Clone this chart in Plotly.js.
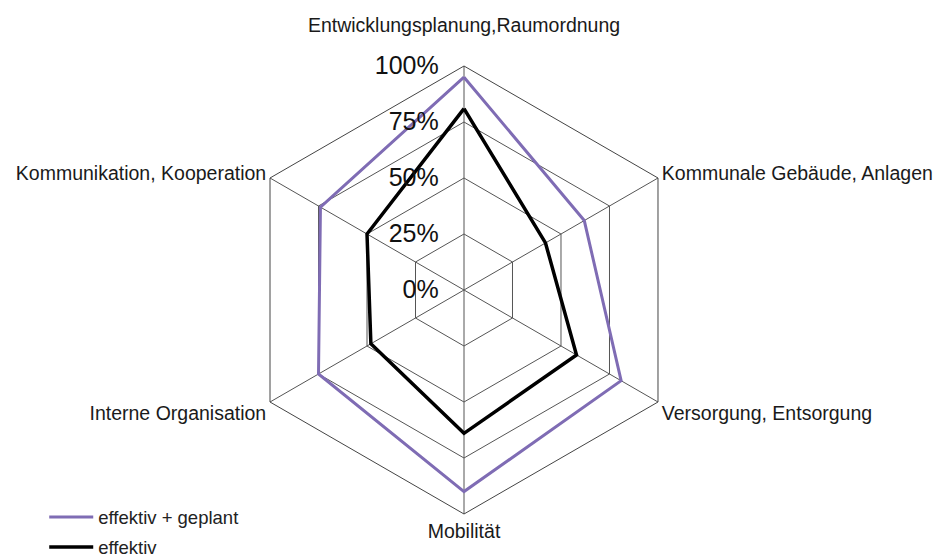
<!DOCTYPE html>
<html>
<head>
<meta charset="utf-8">
<script src="https://cdn.plot.ly/plotly-3.0.1.min.js"></script>
<style>
  html, body { margin: 0; padding: 0; background: #fff; }
  #myDiv { width: 941px; height: 555px; }
</style>
</head>
<body>
<div id="myDiv"></div>
<script>
var bereiche = [
  'Entwicklungsplanung,Raumordnung',
  'Kommunale Gebäude, Anlagen',
  'Versorgung, Entsorgung',
  'Mobilität',
  'Interne Organisation',
  'Kommunikation, Kooperation'
];
var bereichLabels = [
  'Entwicklungsplanung,Raumordnung<br> ',
  'Kommunale Gebäude, Anlagen',
  'Versorgung, Entsorgung',
  'Mobilität',
  'Interne Organisation',
  'Kommunikation, Kooperation'
];
var effektivGeplant = [95, 62, 81, 90, 75, 74];
var effektiv = [81, 42, 58, 64, 48, 50];
var radialTicks = [0, 25, 50, 75, 100];

function closeLoop(arr) {
  return arr.concat([arr[0]]);
}

var trace1 = {
  type: 'scatterpolar',
  r: closeLoop(effektivGeplant),
  theta: closeLoop(bereiche),
  mode: 'lines',
  name: 'effektiv + geplant',
  legendgroup: 'a',
  line: {color: '#7f6cb4', width: 3}
};

var trace2 = {
  type: 'scatterpolar',
  r: closeLoop(effektiv),
  theta: closeLoop(bereiche),
  mode: 'lines',
  name: 'effektiv',
  legendgroup: 'b',
  line: {color: '#000000', width: 3.5}
};

var data = [trace1, trace2];

var layout = {
  width: 941,
  height: 555,
  margin: {l: 100, r: 113, t: 66, b: 41, autoexpand: false},
  paper_bgcolor: '#ffffff',
  font: {family: 'Liberation Sans, Arial, sans-serif', color: '#1a1a1a', size: 19.5},
  showlegend: true,
  legend: {
    xref: 'container', yref: 'container',
    x: 0.047, y: 0.102, xanchor: 'left', yanchor: 'top',
    font: {size: 18.5, color: '#222'},
    itemwidth: 44,
    traceorder: 'grouped',
    tracegroupgap: 3
  },
  polar: {
    gridshape: 'linear',
    bgcolor: '#ffffff',
    angularaxis: {
      categoryarray: bereiche,
      tickvals: bereiche,
      ticktext: bereichLabels,
      rotation: 90,
      direction: 'clockwise',
      linecolor: '#444',
      linewidth: 1,
      gridcolor: '#555',
      gridwidth: 1,
      ticks: '',
      tickfont: {size: 19.5, color: '#1a1a1a'}
    },
    radialaxis: {
      range: [0, 100],
      angle: 90,
      side: 'counterclockwise',
      tickangle: 90,
      tickvals: radialTicks,
      ticktext: radialTicks.map(function (v) { return v + '%'; }),
      showline: false,
      ticks: 'outside',
      ticklen: 16,
      tickcolor: 'rgba(0,0,0,0)',
      gridcolor: '#555',
      gridwidth: 1,
      tickfont: {size: 25, color: '#111'}
    }
  }
};

Plotly.newPlot('myDiv', data, layout, {displayModeBar: false});
</script>
</body>
</html>
